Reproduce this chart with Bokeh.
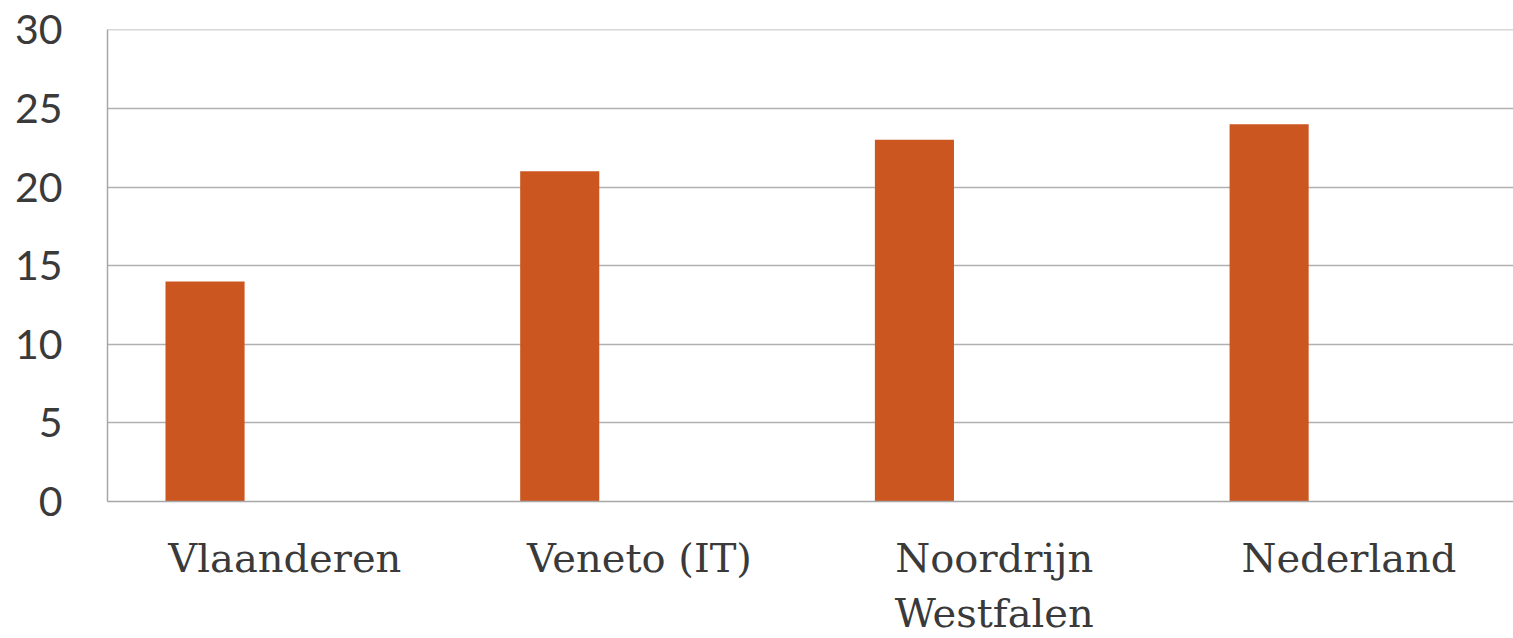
import numpy as np
from bokeh.plotting import figure
from bokeh.models import FixedTicker, Range1d
from bokeh.embed import file_html
from bokeh.resources import INLINE

categories = ["Vlaanderen", "Veneto (IT)", "Noordrijn\nWestfalen", "Nederland"]
values = [14, 21, 23, 24]
y_ticks = [0, 5, 10, 15, 20, 25, 30]

centers = np.arange(len(categories)) + 0.5
bar_offset = -0.225

p = figure(width=1513, height=638, output_backend="svg", toolbar_location=None,
           x_range=Range1d(0, 3.964), y_range=Range1d(0, 30.02),
           min_border_left=107, min_border_right=0, min_border_top=29, min_border_bottom=0)
p.outline_line_color = None
p.background_fill_color = "white"

p.vbar(x=centers + bar_offset, top=values, width=0.223, bottom=0,
       fill_color="#CB5620", line_color=None)

text_color = "#3a3a3a"
p.yaxis.ticker = FixedTicker(ticks=y_ticks)
p.yaxis.axis_line_color = "#a6a6a6"
p.yaxis.axis_line_width = 1.5
p.yaxis.major_tick_line_color = None
p.yaxis.minor_tick_line_color = None
p.yaxis.major_label_standoff = 39
p.yaxis.major_label_text_font = "Lato"
p.yaxis.major_label_text_font_size = "41px"
p.yaxis.major_label_text_color = text_color

p.xaxis.ticker = FixedTicker(ticks=list(centers))
p.xaxis.major_label_overrides = {float(c): lab for c, lab in zip(centers, categories)}
p.xaxis.axis_line_color = "#a6a6a6"
p.xaxis.axis_line_width = 1.5
p.xaxis.major_tick_line_color = None
p.xaxis.minor_tick_line_color = None
p.xaxis.major_label_standoff = 27
p.xaxis.major_label_text_font = "DejaVu Serif"
p.xaxis.major_label_text_font_size = "40px"
p.xaxis.major_label_text_color = text_color
p.xaxis.major_label_text_line_height = 1.2

p.xgrid.grid_line_color = None
p.ygrid.ticker = FixedTicker(ticks=y_ticks)
p.ygrid.grid_line_color = "#b0b0b0"
p.ygrid.grid_line_width = 1.5

open("out.html", "w").write(file_html(p, INLINE))
